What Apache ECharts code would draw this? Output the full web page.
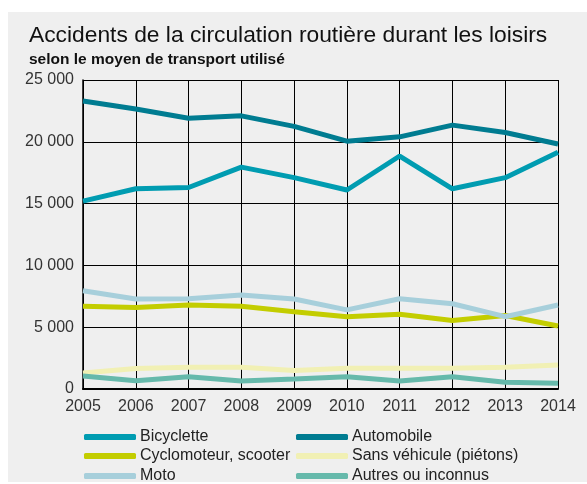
<!DOCTYPE html>
<html>
<head>
<meta charset="utf-8">
<script src="https://cdn.jsdelivr.net/npm/echarts@6/dist/echarts.min.js"></script>
<style>
  html, body { margin: 0; padding: 0; background: #ffffff; }
  #chart { width: 587px; height: 484px; }
</style>
</head>
<body>
<div id="chart"></div>
<script>
// Years on the horizontal axis
const years = ['2005', '2006', '2007', '2008', '2009', '2010', '2011', '2012', '2013', '2014'];

// Number of leisure-time road accidents per means of transport
const bicyclette   = [15200, 16200, 16300, 17950, 17100, 16100, 18850, 16200, 17100, 19150];
const automobile   = [23300, 22650, 21900, 22100, 21250, 20050, 20400, 21350, 20750, 19820];
const cyclomoteur  = [6700, 6600, 6800, 6700, 6250, 5850, 6050, 5550, 5950, 5100];
const sansVehicule = [1300, 1650, 1750, 1750, 1500, 1680, 1680, 1680, 1750, 1950];
const moto         = [7950, 7280, 7300, 7600, 7280, 6400, 7300, 6900, 5850, 6800];
const autres       = [1050, 670, 1000, 650, 800, 1000, 650, 1000, 540, 460];

// Value axis settings
const yMin = 0, yMax = 25000, yStep = 5000;

const FONT = '"Liberation Sans", Arial, Helvetica, sans-serif';

const seriesDefs = [
  { name: 'Bicyclette', data: bicyclette, color: '#009cb1' },
  { name: 'Automobile', data: automobile, color: '#007c91' },
  { name: 'Cyclomoteur, scooter', data: cyclomoteur, color: '#c3cd00' },
  { name: 'Sans véhicule (piétons)', data: sansVehicule, color: '#f1f0b4' },
  { name: 'Moto', data: moto, color: '#a7cfdb' },
  { name: 'Autres ou inconnus', data: autres, color: '#66b9ab' }
];

// Legend grid: two columns, three rows (one legend component per entry)
const legendPlaces = [
  { name: 'Bicyclette', left: 79, top: 423 },
  { name: 'Cyclomoteur, scooter', left: 79, top: 442 },
  { name: 'Moto', left: 79, top: 462 },
  { name: 'Automobile', left: 291, top: 423 },
  { name: 'Sans véhicule (piétons)', left: 291, top: 442 },
  { name: 'Autres ou inconnus', left: 291, top: 462 }
];

const fmt = v => String(v).replace(/\B(?=(\d{3})+(?!\d))/g, ' ');

const chart = echarts.init(document.getElementById('chart'), null, { renderer: 'canvas' });

chart.setOption({
  animation: false,
  backgroundColor: '#ffffff',
  graphic: [
    {
      type: 'rect', left: 8, top: 12, z: -10,
      shape: { width: 579, height: 470 },
      style: { fill: '#efefef' }
    }
  ],
  title: [
    {
      text: 'Accidents de la circulation routière durant les loisirs',
      left: 24, top: 19,
      textStyle: { fontFamily: FONT, fontSize: 22.8, fontWeight: 'normal', color: '#111' }
    },
    {
      text: 'selon le moyen de transport utilisé',
      left: 24, top: 47,
      textStyle: { fontFamily: FONT, fontSize: 15.5, fontWeight: 'bold', color: '#111' }
    }
  ],
  legend: legendPlaces.map(p => ({
    left: p.left, top: p.top,
    padding: 5,
    icon: 'roundRect',
    itemWidth: 52,
    itemHeight: 6,
    itemGap: 0,
    selectedMode: false,
    data: [p.name],
    textStyle: { fontFamily: FONT, fontSize: 16, color: '#222', lineHeight: 18, padding: [0, 0, 0, -1] }
  })),
  grid: { left: 83, right: 29, top: 80, bottom: 95, containLabel: false },
  xAxis: {
    type: 'category',
    data: years,
    boundaryGap: false,
    axisLine: { show: true, lineStyle: { color: '#000', width: 2 } },
    axisTick: { show: false },
    axisLabel: { fontFamily: FONT, fontSize: 16, color: '#333', margin: 10 },
    splitLine: { show: true, lineStyle: { color: '#000', width: 1 } }
  },
  yAxis: {
    type: 'value',
    min: yMin, max: yMax, interval: yStep,
    axisLine: { show: true, lineStyle: { color: '#000', width: 1.5 } },
    axisTick: { show: false },
    axisLabel: { fontFamily: FONT, fontSize: 16, color: '#333', margin: 9, formatter: fmt },
    splitLine: { show: true, lineStyle: { color: '#000', width: 1 } }
  },
  series: seriesDefs.map(s => ({
    name: s.name,
    type: 'line',
    data: s.data,
    showSymbol: false,
    symbol: 'none',
    color: s.color,
    lineStyle: { width: 5, color: s.color },
    emphasis: { disabled: true }
  }))
});
</script>
</body>
</html>
